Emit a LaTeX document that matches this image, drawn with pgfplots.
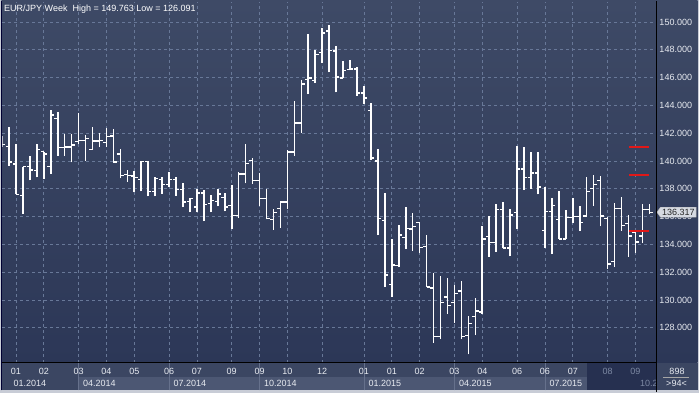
\documentclass[border=0pt]{standalone}
\usepackage{fontspec}
\setmainfont{Liberation Sans}
\usepackage{pgfplots}
\usepackage{pgfplotstable}
\pgfplotsset{compat=1.18}
\usetikzlibrary{shapes.symbols}
\definecolor{bgtop}{RGB}{62,74,102}
\definecolor{bgbot}{RGB}{44,55,87}
\definecolor{gridc}{RGB}{104,120,152}
\definecolor{bandc}{RGB}{59,70,98}
\definecolor{bandl}{RGB}{76,87,115}
\definecolor{darkh}{RGB}{38,48,80}
\definecolor{framec}{RGB}{200,204,214}
\definecolor{sepc}{RGB}{102,113,140}
\definecolor{labc}{RGB}{232,235,241}
\definecolor{diml}{RGB}{125,137,163}
\definecolor{tagc}{RGB}{214,218,226}
\definecolor{redl}{RGB}{224,24,24}
\newcommand\lf{\fontsize{9}{10}\selectfont}

\pgfplotstableread{
k o h l c
0 141.4 141.8 141.0 141.2
1 141.02 142.45 139.65 139.93
2 139.79 141.21 137.6 137.6
3 137.5 139.6 136.2 139.6
4 139.6 140.35 138.6 139.35
5 139.33 141.21 138.83 140.83
6 140.67 140.67 138.7 140.5
7 139.6 143.7 139.1 143.3
8 143.05 143.55 140.37 140.98
9 140.98 141.93 140.35 141.0
10 141.0 141.93 139.9 141.15
11 141.4 143.45 141.25 141.5
12 141.5 141.86 140.02 141.62
13 140.85 142.45 140.8 141.45
14 141.45 141.98 140.98 141.5
15 141.33 142.4 141.0 141.74
16 141.79 142.33 139.88 139.93
17 140.5 140.9 138.76 138.95
18 139.05 139.36 138.52 138.95
19 138.93 139.29 137.74 138.83
20 138.69 140.0 137.81 139.95
21 139.95 140.0 137.45 137.83
22 137.83 138.83 137.45 138.76
23 138.69 138.83 137.64 138.31
24 138.33 139.24 138.12 138.69
25 138.69 138.83 137.5 137.93
26 137.93 138.4 136.69 137.05
27 137.1 137.33 136.31 137.29
28 136.69 137.98 136.31 137.69
29 137.69 137.93 135.67 136.86
30 136.93 137.57 136.31 137.14
31 137.1 137.98 136.74 137.62
32 137.4 137.69 136.38 136.69
33 136.78 138.3 135.1 136.06
34 136.1 139.2 135.9 139.07
35 139.07 141.23 138.4 139.83
36 140.06 140.2 138.35 138.58
37 138.58 139.15 136.8 137.28
38 137.28 137.98 135.8 135.85
39 135.81 136.57 135.05 136.29
40 136.57 137.0 135.21 137.05
41 137.05 140.81 136.52 140.64
42 140.64 144.29 140.38 142.73
43 142.73 145.85 142.05 145.54
44 145.85 149.16 144.82 145.97
45 145.78 148.0 145.61 147.65
46 147.82 149.57 147.05 149.21
47 149.35 149.763 146.38 147.96
48 147.91 148.3 144.94 146.04
49 145.97 147.17 145.97 146.5
50 146.57 147.29 146.52 146.62
51 146.62 146.76 144.7 144.89
52 144.89 145.37 144.12 144.53
53 143.64 144.17 140.1 140.21
54 140.0 140.86 134.67 135.86
55 135.74 137.67 130.93 131.81
56 131.1 134.38 130.21 132.52
57 132.48 135.38 132.36 134.67
58 134.5 136.71 133.67 135.17
59 135.1 136.24 133.55 135.29
60 135.57 135.62 133.38 133.79
61 133.86 134.67 130.93 130.93
62 130.86 131.95 126.93 127.36
63 127.36 131.76 127.19 129.81
64 130.21 131.6 129.02 129.62
65 129.81 131.05 128.38 130.45
66 130.64 131.4 127.19 127.36
67 127.43 128.83 126.091 128.31
68 128.79 130.17 127.48 129.21
69 129.14 135.33 129.02 134.38
70 134.57 136.03 133.13 134.14
71 134.14 136.88 133.48 136.52
72 136.52 137.05 133.71 133.74
73 133.74 136.52 133.14 136.12
74 136.29 141.1 135.14 139.43
75 139.43 141.0 137.95 138.79
76 138.79 140.64 138.0 139.14
77 139.14 140.64 137.6 138.14
78 135.02 138.14 133.76 136.36
79 136.36 137.31 133.31 136.81
80 135.81 137.81 134.38 134.38
81 134.38 136.45 134.38 135.93
82 135.93 137.36 135.52 136.0
83 136.0 136.76 134.98 135.57
84 136.05 138.86 136.05 137.79
85 138.02 139.02 136.76 138.31
86 138.62 138.95 135.29 136.05
87 135.86 136.0 132.24 132.6
88 132.76 136.95 132.36 136.57
89 136.57 137.43 134.98 135.35
90 135.5 136.15 133.13 134.6
91 134.86 134.92 133.4 134.17
92 134.6 136.93 134.1 136.5
93 136.52 136.93 136.18 136.317
}\ohlc

\begin{document}
\begin{tikzpicture}[x=1pt,y=1pt]
\useasboundingbox (0,0) rectangle (699,393);
\fill[framec] (0,0) rectangle (699,393);
\shade[top color=bgtop, bottom color=bgbot] (1.3,30) rectangle (697.5,392);
\fill[bandc] (1.3,2.5) rectangle (697.5,30);
\fill[bandl] (78.6,2.5) rectangle (586.7,15.5);
\fill[darkh] (586.7,2.5) rectangle (656.7,30);
\foreach \xx in {78.6,169.5,259.6,364,454.4,545}{\draw[sepc,line width=0.8pt] (\xx,2.5) -- (\xx,30);}

\begin{axis}[
  at={(2.3pt,30pt)}, anchor=south west,
  scale only axis, width=654.4pt, height=361pt,
  xmin=0.04, xmax=94.06, ymin=125.47, ymax=151.44,
  axis line style={draw=none},
  major tick length=0pt,
  xtick={2,6,11,15,19,24,28,33,37,41,46,52,56,60,65,69,74,78,82,87,91},
  xticklabels={01,02,03,04,05,06,07,09,09,10,12,01,01,02,03,04,06,06,07,\textcolor{diml}{08},\textcolor{diml}{09}},
  ytick={128,130,...,150},
  grid=major,
  grid style={dash pattern=on 3pt off 3pt, color=gridc, line width=0.8pt},
  yticklabel pos=right,
  y tick label style={anchor=west, xshift=2.6pt, inner sep=0pt, font=\lf, text=labc},
  x tick label style={anchor=center, yshift=-8.5pt, inner sep=0pt, font=\lf, text=labc},
  /pgf/number format/fixed, /pgf/number format/fixed zerofill,
  /pgf/number format/precision=3, /pgf/number format/1000 sep={},
  /pgf/number format/assume math mode=true,
]
\addplot[draw=none, mark=none, error bars/.cd, y dir=plus, y explicit, error mark=none,
  error bar style={draw=white, line width=1.6pt}]
  table[x=k, y=l, y error expr=\thisrow{h}-\thisrow{l}] {\ohlc};
\addplot[draw=none, mark=none, error bars/.cd, x dir=minus, x fixed=0.47, error mark=none,
  error bar style={draw=white, line width=1.3pt}]
  table[x=k, y=o] {\ohlc};
\addplot[draw=none, mark=none, error bars/.cd, x dir=plus, x fixed=0.47, error mark=none,
  error bar style={draw=white, line width=1.3pt}]
  table[x=k, y=c] {\ohlc};
\addplot[redl, line width=2pt, mark=none] coordinates {(90.1,141) (93,141)};
\addplot[redl, line width=2pt, mark=none] coordinates {(90.1,139) (93,139)};
\addplot[redl, line width=2pt, mark=none] coordinates {(90.1,135) (93,135)};
\end{axis}

\begin{axis}[
  at={(2.3pt,30pt)}, anchor=south west,
  scale only axis, width=654.4pt, height=361pt,
  xmin=0.04, xmax=94.06, ymin=125.47, ymax=151.44,
  axis line style={draw=none}, clip=false,
  major tick length=0pt, ytick=\empty,
  xtick={1,11,24,37,52,65,78,91},
  xticklabels={01.2014,04.2014,07.2014,10.2014,01.2015,04.2015,07.2015,\textcolor{diml}{10.2}},
  x tick label style={anchor=west, xshift=4.4pt, yshift=-20.5pt, inner sep=0pt, font=\lf, text=labc},
]
\addplot[draw=none, mark=none, point meta=y,
  nodes near coords={\pgfmathprintnumber[fixed,fixed zerofill,precision=3,assume math mode=true]{\pgfplotspointmeta}},
  nodes near coords style={signal, signal to=west, signal pointer angle=110, fill=tagc,
    draw=gray!60, line width=0.4pt,
    anchor=west, inner ysep=0.8pt, inner xsep=1.6pt, minimum height=10pt, text=black!85, font=\lf}]
  coordinates {(94.06,136.317)};
\end{axis}

\draw[black, line width=1pt] (656.7,1.3) -- (656.7,392);
\draw[black, line width=1pt] (1.3,30) -- (656.7,30);
\draw[black!80!blue, line width=0.9pt] (1.9,2.5) -- (1.9,392);
\node[anchor=base west, inner sep=0pt, font=\lf, text=white] at (4,381.8) {EUR/JPY Week\ \ High = 149.763 Low = 126.091};
\node[font=\lf, text=labc, inner sep=0pt] at (677,21.5) {898};
\draw[gray!70, line width=0.6pt] (663,15.7) -- (689,15.7);
\node[font=\lf, text=labc, inner sep=0pt] at (676.5,9.5) {>94<};
\end{tikzpicture}
\end{document}
